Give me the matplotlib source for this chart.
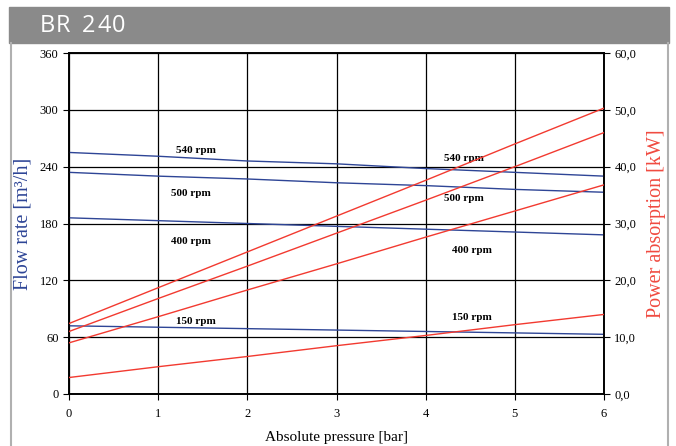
import matplotlib
matplotlib.use("Agg")
import matplotlib.pyplot as plt
from matplotlib.patches import Rectangle
from matplotlib.lines import Line2D
from matplotlib.ticker import FuncFormatter

pressure = [0, 1, 2, 3, 4, 5, 6]
flow_540 = [255, 251, 246, 243, 238, 234, 230]
flow_500 = [234, 230, 227, 223, 220, 216, 213]
flow_400 = [186, 183, 180, 177, 174, 171, 168]
flow_150 = [72, 70.5, 69, 67.5, 66, 64.5, 63]

power_540 = [12.4, 18.7, 25.0, 31.3, 37.6, 44.0, 50.3]
power_500 = [11.0, 16.8, 22.5, 28.3, 34.1, 40.0, 46.0]
power_400 = [9.0, 13.6, 18.3, 22.9, 27.6, 32.2, 36.8]
power_150 = [2.9, 4.8, 6.6, 8.5, 10.3, 12.2, 14.0]

flow_labels = ["540 rpm", "500 rpm", "400 rpm", "150 rpm"]
flow_label_pos = [(1.2, 257), (1.14, 212), (1.14, 161), (1.2, 77)]
power_label_pos = [(4.2, 249), (4.2, 206), (4.3, 151), (4.3, 81)]

x_ticks = [0, 1, 2, 3, 4, 5, 6]
flow_ticks = [0, 60, 120, 180, 240, 300, 360]
power_ticks = [0, 10, 20, 30, 40, 50, 60]

BLUE = "#2e4596"
RED = "#f23a30"
serif = ["Liberation Serif", "DejaVu Serif"]

fig = plt.figure(figsize=(6.76, 4.46), dpi=100)
W, H = 676, 446

# header band and frame lines
fig.patches.append(Rectangle((9 / W, 1 - 42.5 / H), 660 / W, 35.5 / H,
                             transform=fig.transFigure, color="#8a8a8a", zorder=0))
fig.lines.append(Line2D([10.5 / W, 10.5 / W], [0.0, 1 - 42.5 / H],
                        transform=fig.transFigure, color="#b0b0b0", lw=1.5))
fig.lines.append(Line2D([667.5 / W, 667.5 / W], [0.0, 1 - 42.5 / H],
                        transform=fig.transFigure, color="#b0b0b0", lw=1.5))
title_chars = "BR 240"
title_x = [40, 56, 0, 82, 97, 112]
for ch, px in zip(title_chars, title_x):
    if ch != " ":
        fig.text(px / W, 1 - 25.5 / H, ch, color="white", fontsize=17,
                 family="Open Sans", va="center", ha="left")

ax = fig.add_axes([69 / W, 52 / H, 535 / W, 341 / H])
ax2 = ax.twinx()

for vals in (flow_540, flow_500, flow_400, flow_150):
    ax.plot(pressure, vals, color=BLUE, lw=1.0, zorder=3)
for vals in (power_540, power_500, power_400, power_150):
    ax2.plot(pressure, vals, color=RED, lw=1.0, zorder=3)

ax.set_xlim(0, 6)
ax.set_ylim(0, 360)
ax2.set_ylim(0, 60)
ax.set_xticks(x_ticks)
ax.set_yticks(flow_ticks)
ax2.set_yticks(power_ticks)
ax2.yaxis.set_major_formatter(FuncFormatter(lambda v, p: f"{v:.1f}".replace(".", ",")))

ax.grid(True, color="black", lw=0.9)
ax.set_axisbelow(True)

for a in (ax, ax2):
    for s in a.spines.values():
        s.set_linewidth(1.2)
        s.set_color("black")
    a.tick_params(labelsize=9, length=4, width=0.8, direction="out")
    for lab in a.get_xticklabels() + a.get_yticklabels():
        lab.set_family(serif)
ax.tick_params(axis="x", pad=6)

ax.set_xlabel("Absolute pressure [bar]", fontsize=11, family=serif, labelpad=8)
ax.set_ylabel("Flow rate [m³/h]", fontsize=14.5, family=serif, color=BLUE, labelpad=5)
ax2.set_ylabel("Power absorption [kW]", fontsize=14.5, family=serif, color="#f04a40", labelpad=8)

for txt, (x, y) in zip(flow_labels, flow_label_pos):
    ax.text(x, y, txt, fontsize=8, fontweight="bold", family=serif, ha="left", va="center", zorder=5)
for txt, (x, y) in zip(flow_labels, power_label_pos):
    ax.text(x, y, txt, fontsize=8, fontweight="bold", family=serif, ha="left", va="center", zorder=5)

fig.savefig("out.png", dpi=100)
